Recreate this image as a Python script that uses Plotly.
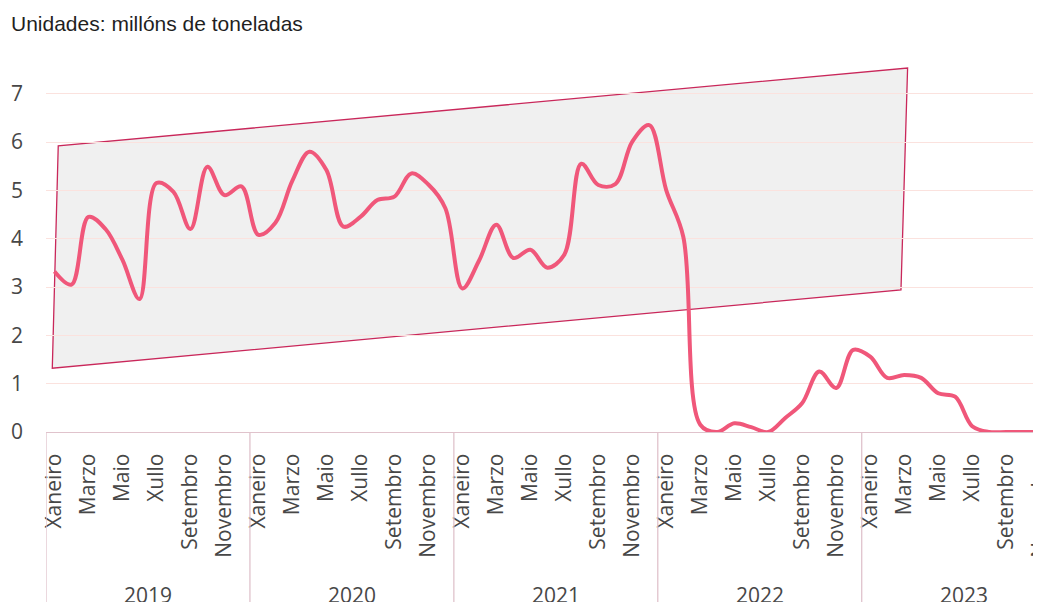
import plotly.graph_objects as go

# ---------------- data ----------------
years = ["2019", "2020", "2021", "2022", "2023"]
months = ["Xaneiro", "Febreiro", "Marzo", "Abril", "Maio", "Xuño",
          "Xullo", "Agosto", "Setembro", "Outubro", "Novembro", "Decembro"]

values_2019 = [3.32, 3.05, 4.45, 4.20, 3.56, 2.75, 5.15, 4.97, 4.20, 5.49, 4.90, 5.08]
values_2020 = [4.08, 4.33, 5.20, 5.80, 5.42, 4.25, 4.45, 4.80, 4.87, 5.35, 5.12, 4.63]
values_2021 = [2.97, 3.56, 4.29, 3.60, 3.77, 3.40, 3.67, 5.55, 5.11, 5.13, 6.01, 6.35]
values_2022 = [5.00, 4.04, 0.15, 0.00, 0.18, 0.10, 0.00, 0.29, 0.60, 1.25, 0.91, 1.70]
values_2023 = [1.56, 1.12, 1.18, 1.12, 0.80, 0.73, 0.12, 0.00, 0.00, 0.00, 0.00, 0.00]

# trend channel drawn over the chart (corners, in month-index / value units)
band_x = [-0.13, 0.22, 50.2, 49.81]
band_y = [1.32, 5.92, 7.53, 2.94]

y_ticks = [0, 1, 2, 3, 4, 5, 6, 7]
title_text = "Unidades: millóns de toneladas"

# ---------------- build ----------------
series = values_2019 + values_2020 + values_2021 + values_2022 + values_2023
idx = list(range(len(series)))
tick_idx = [i for i in idx if i % 2 == 0]
tick_txt = [months[i % 12] for i in tick_idx]

LINE = "#F0577A"
GRID = "#FBE2DE"
BOX = "#E0C3CC"
TXT = "#474747"
FONT = "Open Sans"

# the page body adds an 8px offset, so the figure is sized to the remaining window
W, H = 1033, 594

fig = go.Figure()
fig.add_trace(go.Scatter(
    x=idx, y=series, mode="lines",
    line=dict(color=LINE, width=4, shape="spline", smoothing=1.0),
    hoverinfo="skip", showlegend=False,
))

path = "M " + " L ".join(f"{x},{y}" for x, y in zip(band_x, band_y)) + " Z"
fig.add_shape(type="path", path=path, xref="x", yref="y",
              fillcolor="#F0F0F0", line=dict(color="#C9275A", width=1.3),
              layer="below")

# year group dividers and labels
for k, yr in enumerate(years):
    fig.add_shape(type="line", xref="x", yref="paper",
                  x0=-0.5 + 12 * k, x1=-0.5 + 12 * k, y0=0, y1=-0.47,
                  line=dict(color=BOX, width=1.3))
    fig.add_annotation(x=5.5 + 12 * k, xref="x", y=-0.432, yref="paper",
                       text=yr, showarrow=False, xanchor="center", yanchor="middle",
                       font=dict(family=FONT, size=21, color=TXT))

fig.update_layout(
    width=W, height=H,
    margin=dict(l=38, r=0, t=47, b=170),
    paper_bgcolor="white", plot_bgcolor="white",
    title=dict(text=title_text, x=3 / W, xanchor="left", xref="container",
               y=1 - 8 / H, yanchor="top", yref="container",
               font=dict(family="Liberation Sans, Arial", size=21, color="#1f1f1f")),
    xaxis=dict(range=[-0.5, 58.05], tickmode="array", tickvals=tick_idx, ticktext=tick_txt,
               tickangle=-90, ticks="", ticklabelstandoff=12, ticklabeloverflow="allow",
               tickfont=dict(family=FONT, size=21, color=TXT),
               showgrid=False, zeroline=False, showline=True, linecolor=BOX, linewidth=1.3,
               automargin=False, fixedrange=True),
    yaxis=dict(range=[0, 7.8], tickmode="array", tickvals=y_ticks,
               ticks="", ticklabelstandoff=22,
               tickfont=dict(family=FONT, size=21, color=TXT),
               showgrid=True, gridcolor=GRID, gridwidth=1, zeroline=False, showline=False,
               automargin=False, fixedrange=True),
    showlegend=False,
)

fig.write_html("out.html")
